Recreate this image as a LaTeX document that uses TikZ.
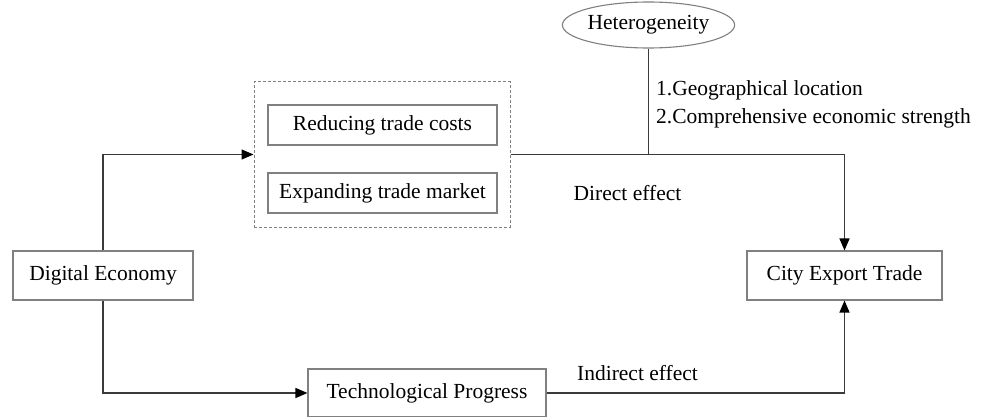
\documentclass[tikz,border=0pt]{standalone}
\usepackage{fontspec}
\setmainfont{Liberation Serif}
\usetikzlibrary{arrows.meta,shapes.geometric}
\definecolor{boxgray}{HTML}{808080}
\definecolor{linegray}{HTML}{3a3a3a}
\begin{document}
\begin{tikzpicture}[x=1pt,y=-1pt,
  txt/.style={font=\fontsize{21.5}{28}\selectfont,text=black},
  box/.style={txt,draw=boxgray,line width=1.1pt,rectangle,inner sep=0pt},
  dashbox/.style={draw=boxgray,line width=1pt,dash pattern=on 3pt off 2pt,rectangle,inner sep=0pt},
  oval/.style={txt,draw=boxgray,line width=1.1pt,ellipse,inner sep=0pt},
  conn/.style={draw=linegray,line width=1.4pt},
  arr/.style={conn,-{Triangle[length=12pt,width=10pt,fill=black,color=black]}}]
\useasboundingbox[fill=white] (0,0) rectangle (990,417);

\node[box,minimum width=180pt,minimum height=49pt] (de) at (103,275.5) {Digital Economy};
\node[box,minimum width=195pt,minimum height=49pt] (cet) at (844.5,275.5) {City Export Trade};
\node[box,minimum width=238pt,minimum height=48pt] (tp) at (427,393) {Technological Progress};
\node[dashbox,minimum width=256pt,minimum height=145pt] (dash) at (382,154.5) {};
\node[box,minimum width=229pt,minimum height=40pt] (rtc) at (382.5,125) {Reducing trade costs};
\node[box,minimum width=229pt,minimum height=40pt] (etm) at (382.5,193) {Expanding trade market};
\node[oval,minimum width=170pt,minimum height=46pt] (het) at (648.5,25) {Heterogeneity};

\node[txt,anchor=base west,inner sep=0pt] (g1) at (656,96) {1.Geographical location};
\node[txt,anchor=base west,inner sep=0pt] (g2) at (656,124) {2.Comprehensive economic strength};
\node[txt] (direct) at (627.5,193) {Direct effect};
\node[txt] (indirect) at (637.5,373) {Indirect effect};

\draw[arr] (de.north) |- (dash.west);
\draw[arr] (de.south) |- (tp.west);
\draw[arr] (dash.east) -| (cet.north);
\draw[arr] (tp.east) -| (cet.south);
\draw[conn] (het.south) -- (het.south |- dash.east);
\end{tikzpicture}
\end{document}
